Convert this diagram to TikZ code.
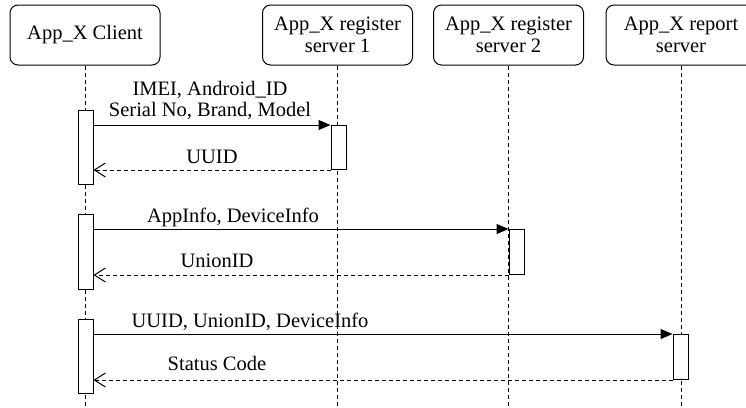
\documentclass[tikz,border=0pt]{standalone}
\usepackage{fontspec}
\setmainfont{Liberation Serif}
\usetikzlibrary{arrows.meta}

\begin{document}
\begin{tikzpicture}[x=1pt,y=-1pt,
  every node/.style={font=\fontsize{20.5}{22}\selectfont, inner sep=0pt},
  actor/.style={draw, rounded corners=8pt, minimum width=150pt, minimum height=60pt,
                align=center, line width=1pt},
  life/.style={dash pattern=on 4pt off 3pt, line width=1pt},
  act/.style={draw, fill=white, minimum width=15pt, line width=1pt},
  msg/.style={-{Triangle[length=12pt,width=10pt]}, line width=1pt},
  ret/.style={dash pattern=on 4pt off 3pt, line width=1pt,
              -{Straight Barb[length=11pt,width=14pt,line width=1pt]}},
  lbl/.style={anchor=base, align=center}
]
\useasboundingbox (0,0) rectangle (746,407);
\clip (0,0) rectangle (746,407);
\coordinate (bot) at (0,407);

% participants
\node[actor] (client) at (85,35)    {App\_X Client};
\node[actor] (reg1)   at (337.5,35) {App\_X register\\server 1};
\node[actor] (reg2)   at (508.5,35) {App\_X register\\server 2};
\node[actor] (rep)    at (681,35)   {App\_X report\\server};

% lifelines
\draw[life] (client.south) -- (client.south |- bot);
\draw[life] (reg1.south)   -- (reg1.south |- bot);
\draw[life] (reg2.south)   -- (reg2.south |- bot);
\draw[life] (rep.south)    -- (rep.south |- bot);

% activation bars
\node[act, minimum height=74pt, anchor=north] (ca1) at (85.5,110) {};
\node[act, minimum height=75pt, anchor=north] (ca2) at (85.5,214) {};
\node[act, minimum height=74pt, anchor=north] (ca3) at (85.5,319) {};
\node[act, minimum height=44pt, anchor=north] (sa1) at (338.5,125) {};
\node[act, minimum height=45pt, anchor=north] (sa2) at (516.5,229) {};
\node[act, minimum height=45pt, anchor=north] (sa3) at (680.5,334) {};

% messages
\draw[msg] (ca1.east |- sa1.north west) -- (sa1.north west);
\draw[ret] (sa1.south west) -- (ca1.east |- sa1.south west);
\draw[msg] (ca2.east |- sa2.north west) -- (sa2.north west);
\draw[ret] (sa2.south west) -- (ca2.east |- sa2.south west);
\draw[msg] (ca3.east |- sa3.north west) -- (sa3.north west);
\draw[ret] (sa3.south west) -- (ca3.east |- sa3.south west);

% message labels (base = baseline of the last line)
\node[lbl, font=\fontsize{20.5}{21}\selectfont] (m1) at (210,116)
  {IMEI, Android\_ID\\Serial No, Brand, Model};
\node[lbl] (r1) at (212,163) {UUID};
\node[lbl] (m2) at (233,222) {AppInfo, DeviceInfo};
\node[lbl] (r2) at (217,267) {UnionID};
\node[lbl] (m3) at (250,327) {UUID, UnionID, DeviceInfo};
\node[lbl] (r3) at (217,370) {Status Code};
\end{tikzpicture}
\end{document}
